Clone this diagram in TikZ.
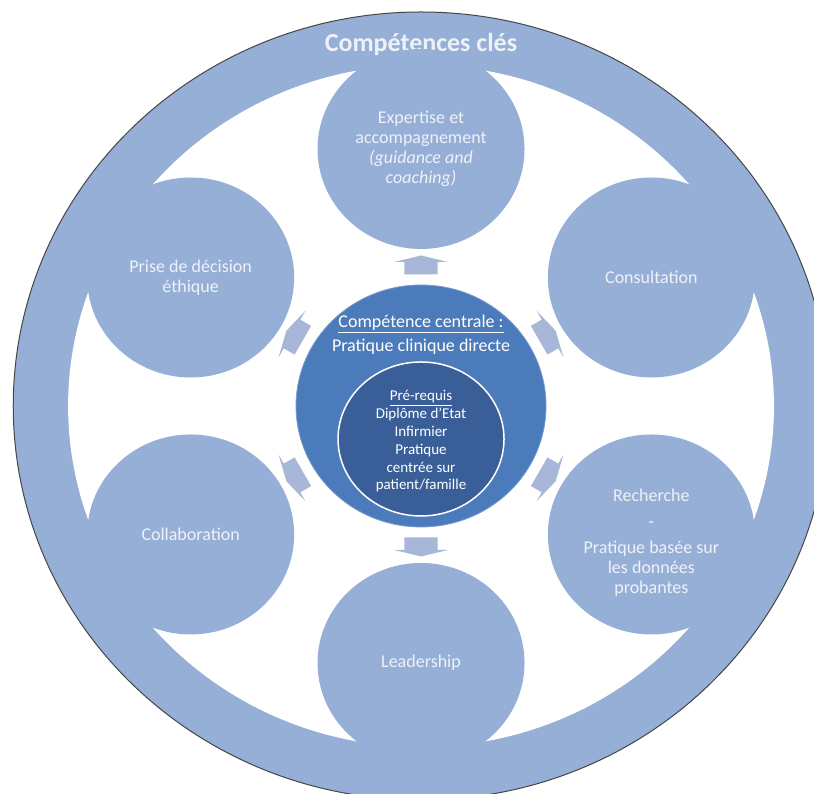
\documentclass[tikz,border=0pt]{standalone}
\usepackage{fontspec}
\setmainfont{Carlito}
\usetikzlibrary{shapes.geometric}
\definecolor{ringblue}{HTML}{96AFD6}
\definecolor{coreblue}{HTML}{4C7BBB}
\definecolor{prereqblue}{HTML}{3A5F98}
\definecolor{arrowblue}{HTML}{A8B7D8}
\definecolor{paletext}{HTML}{EEF2F8}

\begin{document}
\begin{tikzpicture}[x=1.035pt, y=1pt,
	sat/.style={ellipse, fill=ringblue, minimum width=207pt, minimum height=200pt, inner sep=0pt},
	sattext/.style={text=paletext, font=\fontsize{18}{20}\selectfont, align=center},
	coretext/.style={text=white, font=\fontsize{18}{24}\selectfont, align=center},
	pretext/.style={text=white, font=\fontsize{15}{17.8}\selectfont, align=center},
	blockarrow/.style={fill=arrowblue}]
		%page
		\useasboundingbox (-406.8,-388) rectangle (379.7,406);
		\clip (-406.8,-388) rectangle (379.7,406);
		
		%outer ring
		\fill[ringblue, draw=gray!55!black, line width=1pt] (0,0) circle (394);
		\fill[white] (0,0) circle (341);
		\node[text=paletext, font=\bfseries\fontsize{26}{28}\selectfont] (title) at (0, 362){Compétences clés};
		
		%satellites
		\node[sat] (expertise) at (90:257){};
		\node[sat] (consultation) at (30:257){};
		\node[sat] (recherche) at (-30:257){};
		\node[sat] (leadership) at (-90:257){};
		\node[sat] (collaboration) at (-150:257){};
		\node[sat] (decision) at (150:257){};
		
		\node[sattext] (expertisetext) at (expertise){Expertise et\\accompagnement\\\textit{(guidance and}\\\textit{coaching)}};
		\node[sattext] (consultationtext) at (consultation){Consultation};
		\node[sattext, yshift=-8pt] (recherchetext) at (recherche){Recherche\\[6pt]-\\[6pt]Pratique basée sur\\les données\\probantes};
		\node[sattext] (leadershiptext) at (leadership){Leadership};
		\node[sattext] (collaborationtext) at (collaboration){Collaboration};
		\node[sattext] (decisiontext) at (decision){Prise de décision\\éthique};
		
		%arrows
		\foreach \a in {90, 30, -30, -90, -150, 150}{
			\fill[blockarrow, shift={(\a:141)}, rotate=\a-90] (-16,-9.5) -- (16,-9.5) -- (16,3) -- (26,3) -- (0,9.5) -- (-26,3) -- (-16,3) -- cycle;
		}
		
		%centre
		\node[ellipse, fill=coreblue, draw=coreblue!75!white, line width=0.8pt, minimum width=250pt, minimum height=242pt] (core) at (0,0){};
		\node[coretext] (coretitle) at (0, 71){\underline{Compétence centrale :}\\Pratique clinique directe};
		\node[ellipse, fill=prereqblue, draw=white, line width=1.5pt, minimum width=166pt, minimum height=154pt] (prereq) at (0,-33){};
		\node[pretext] (prereqtext) at (0,-35.5){\underline{Pré-requis}\\Diplôme d'Etat\\Infirmier\\Pratique\\centrée sur\\patient/famille};
\end{tikzpicture}
\end{document}
